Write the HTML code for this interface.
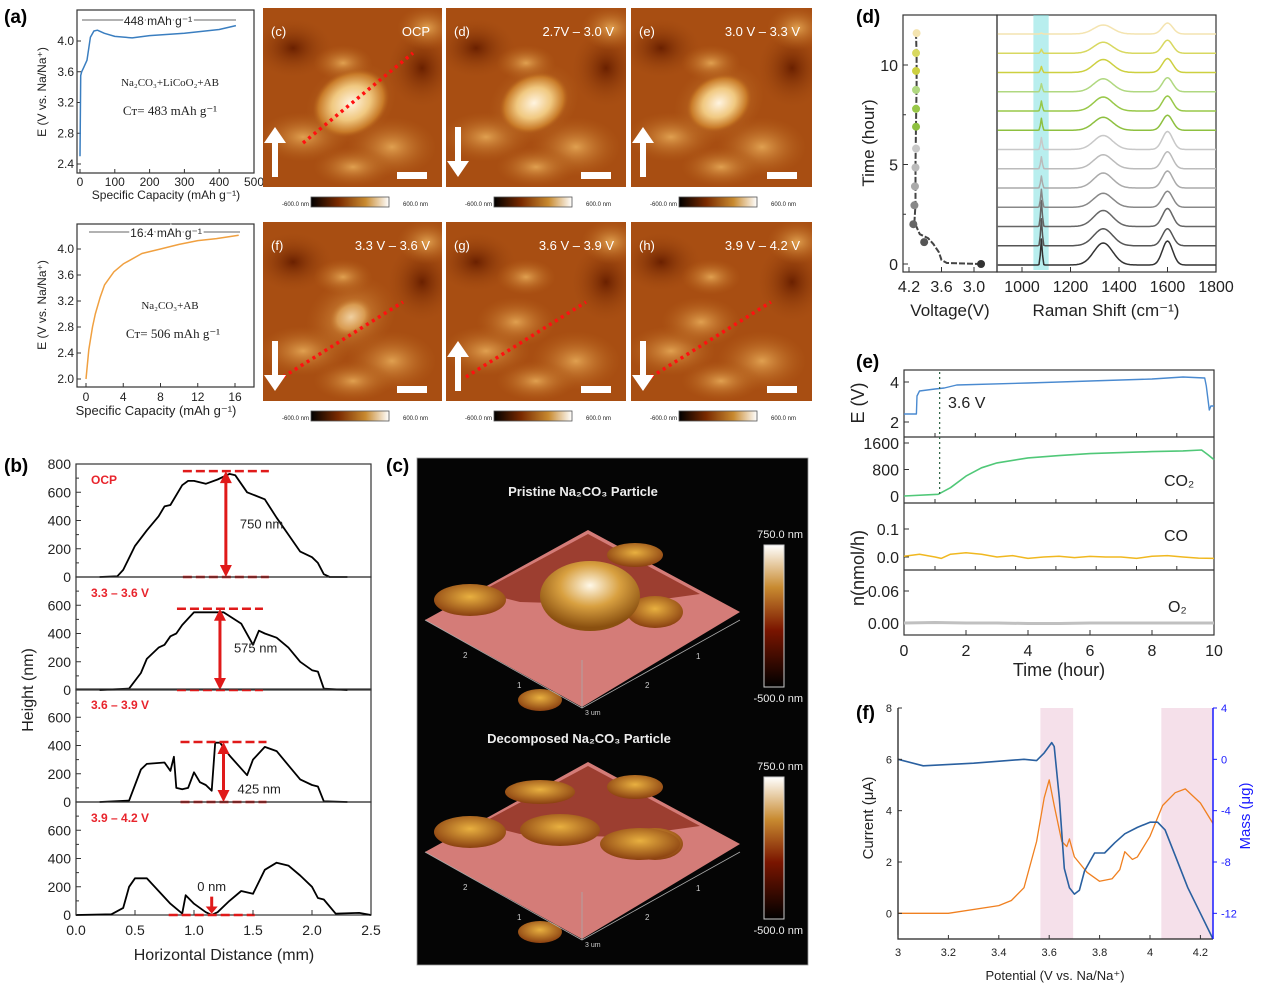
<!DOCTYPE html>
<html><head><meta charset="utf-8">
<style>
html,body{margin:0;padding:0;background:#fff;}
svg{display:block;font-family:"Liberation Sans",sans-serif;}
</style></head>
<body>
<svg id="fig" width="1272" height="997" viewBox="0 0 1272 997" xmlns="http://www.w3.org/2000/svg">
<defs>
<linearGradient id="cbar" x1="0" x2="1" y1="0" y2="0"><stop offset="0" stop-color="#000"/><stop offset="0.35" stop-color="#7a2a00"/><stop offset="0.7" stop-color="#c88a30"/><stop offset="1" stop-color="#fff"/></linearGradient>
<linearGradient id="cbarv" x1="0" x2="0" y1="1" y2="0"><stop offset="0" stop-color="#000"/><stop offset="0.4" stop-color="#7a1500"/><stop offset="0.7" stop-color="#c88a30"/><stop offset="1" stop-color="#fff"/></linearGradient>
<radialGradient id="part" cx="0.5" cy="0.5" r="0.5"><stop offset="0" stop-color="#fff4e0"/><stop offset="0.5" stop-color="#f0c880"/><stop offset="0.85" stop-color="#c87a28"/><stop offset="1" stop-color="#b4601a" stop-opacity="0"/></radialGradient>
<radialGradient id="partdim" cx="0.5" cy="0.5" r="0.5"><stop offset="0" stop-color="#f0d0a0"/><stop offset="0.6" stop-color="#d89a50"/><stop offset="1" stop-color="#b4601a" stop-opacity="0"/></radialGradient>
<radialGradient id="blob" cx="0.5" cy="0.5" r="0.5"><stop offset="0" stop-color="#e0a050"/><stop offset="1" stop-color="#b4601a" stop-opacity="0"/></radialGradient>
<radialGradient id="dark" cx="0.5" cy="0.5" r="0.5"><stop offset="0" stop-color="#6a2000"/><stop offset="1" stop-color="#a04a10" stop-opacity="0"/></radialGradient>
<radialGradient id="dome" cx="0.5" cy="0.35" r="0.6"><stop offset="0" stop-color="#fff8e8"/><stop offset="0.5" stop-color="#d8a040"/><stop offset="1" stop-color="#8a5010"/></radialGradient>
<radialGradient id="lump" cx="0.5" cy="0.4" r="0.6"><stop offset="0" stop-color="#e8b040"/><stop offset="1" stop-color="#8a4010"/></radialGradient>
</defs>
<g id="root"></g>
</svg>
<script>
// ---------- DATA ----------
// (a) top
const aTopCap = [0,2,5,10,20,30,40,50,70,100,150,200,300,400,448];
const aTopE   = [2.5,3.55,3.6,3.65,3.75,4.05,4.13,4.14,4.1,4.06,4.04,4.07,4.1,4.15,4.2];
const aTopXTicks = [0,100,200,300,400,500];
const aTopYTicks = [2.4,2.8,3.2,3.6,4.0];
// (a) bottom
const aBotCap = [0,0.3,0.7,1,1.5,2,3,4,6,8,10,12,14,16.4];
const aBotE   = [2.0,2.45,2.8,3.0,3.25,3.45,3.65,3.77,3.93,4.0,4.07,4.13,4.16,4.21];
const aBotXTicks = [0,4,8,12,16];
const aBotYTicks = [2.0,2.4,2.8,3.2,3.6,4.0];
// (b) height profiles
const bLabels = ["OCP","3.3 \u2013 3.6 V","3.6 \u2013 3.9 V","3.9 \u2013 4.2 V"];
const bX1 = [0.2,0.35,0.4,0.5,0.6,0.7,0.75,0.8,0.9,0.95,1.0,1.1,1.2,1.3,1.35,1.45,1.6,1.7,1.8,1.9,2.0,2.05,2.1,2.15,2.3];
const bH1 = [0,5,50,220,330,430,500,510,650,680,680,660,690,730,720,600,550,420,300,180,140,100,20,0,0];
const bX2 = [0.2,0.45,0.55,0.6,0.7,0.75,0.8,0.85,0.9,1.0,1.1,1.25,1.4,1.5,1.55,1.6,1.7,1.8,1.9,2.0,2.05,2.1,2.3];
const bH2 = [0,10,120,220,300,320,380,400,460,550,550,550,470,320,420,400,370,300,200,140,130,10,0];
const bX3 = [0.2,0.45,0.55,0.6,0.75,0.8,0.83,0.85,0.9,0.95,1.0,1.05,1.1,1.15,1.18,1.22,1.3,1.45,1.5,1.6,1.7,1.8,1.9,2.0,2.05,2.1,2.3];
const bH3 = [0,10,230,270,280,220,320,100,90,100,210,140,120,80,420,420,330,190,300,390,360,260,160,120,110,5,0];
const bX4 = [0,0.3,0.4,0.45,0.5,0.6,0.7,0.8,0.9,0.93,1.0,1.1,1.15,1.2,1.3,1.4,1.5,1.6,1.7,1.8,1.9,2.0,2.05,2.1,2.2,2.4,2.5];
const bH4 = [0,5,50,200,260,260,170,80,10,140,80,20,0,20,100,170,150,320,370,350,280,200,120,110,10,15,0];
const bArrowX = [1.27,1.22,1.25,1.15];
const bArrowTop = [750,575,425,60];
const bArrowText = ["750 nm","575 nm","425 nm","0 nm"];
const bXTicks = [0.0,0.5,1.0,1.5,2.0,2.5];
// (d) voltage vs time
const dV = [2.87,3.5,3.6,3.65,3.75,3.85,4.0,4.05,4.1,4.08,4.08,4.07,4.06,4.06,4.07];
const dT = [0,0.05,0.2,0.6,1.0,1.3,1.5,1.8,2.1,3,5,7,9,10.5,11.6];
const dDotT = [0,1.1,2.0,2.95,3.9,4.85,5.8,6.9,7.8,8.75,9.7,10.6,11.6];
const dDotV = [2.87,3.92,4.12,4.1,4.09,4.08,4.07,4.07,4.07,4.07,4.07,4.07,4.06];
const dColors = ["#333","#555","#666","#888","#aaa","#bbb","#c8c8c8","#8ec040","#98c848","#b0d880","#cdd040","#d8d860","#f4e4b0"];
const dPeak1080 = [26,27,26,18,12,12,12,12,10,8,6,4,1];
const dDband = [22,17,16,14,15,14,14,13,14,13,13,11,9];
const dGband = [24,17,18,16,17,17,18,15,15,14,14,13,11];
const dXTicks = [1000,1200,1400,1600,1800];
// (e)
const eT  = [0,0.4,0.42,0.5,1.0,1.3,1.7,4,6,8,9,9.7,9.75,9.85,9.9,10];
const eE  = [2.4,2.4,3.3,3.55,3.65,3.7,3.85,3.95,4.05,4.15,4.25,4.2,3.8,2.6,2.8,2.8];
const eCO2T = [0,1.1,1.5,2,2.5,3,4,5,6,7,8,9,9.6,9.8,10];
const eCO2 = [0,50,250,600,850,1000,1150,1220,1280,1310,1340,1360,1390,1250,1100];
const eCOT = [0,0.5,1,1.2,1.5,2,2.5,3,3.5,4,4.5,5,5.5,6,6.5,7,7.5,8,8.5,9,9.5,10];
const eCO = [0.003,0.01,0.0,-0.005,0.01,0.015,0.01,0.0,0.005,-0.005,0.0,0.003,-0.002,0.002,0.0,0.0,-0.005,0.003,0.005,0.0,-0.004,-0.005];
const eO2T = [0,1,2,3,4,5,6,7,8,9,10];
const eO2 = [0.0,0.001,0.0,0.0,-0.001,-0.001,0.0,0.0,0.0,0.0,0.0];
const eXTicks = [0,2,4,6,8,10];
// (f)
const fPotI = [3,3.2,3.4,3.45,3.5,3.55,3.58,3.6,3.62,3.65,3.67,3.68,3.7,3.75,3.8,3.85,3.88,3.9,3.93,3.95,4.0,4.05,4.1,4.14,4.2,4.25];
const fCur  = [0,0,0.3,0.5,1.0,2.8,4.5,5.2,4.2,2.8,2.6,2.9,2.2,1.6,1.25,1.35,1.7,2.4,2.1,2.2,3.0,4.2,4.7,4.85,4.3,3.5];
const fPotM = [3,3.1,3.3,3.5,3.55,3.58,3.61,3.62,3.64,3.66,3.68,3.7,3.72,3.74,3.78,3.82,3.86,3.9,3.95,4.0,4.03,4.06,4.1,4.15,4.2,4.25];
const fMass = [0,-0.5,-0.3,0,-0.1,0.5,1.3,1.0,-3,-8.5,-10,-10.5,-10.2,-8.7,-7.3,-7.3,-6.5,-5.8,-5.3,-4.9,-4.9,-5.5,-7.5,-10,-12,-14];
const fXTicks = [3,3.2,3.4,3.6,3.8,4,4.2];
const fLTicks = [0,2,4,6,8];
const fRTicks = [-12,-8,-4,0,4];
const fShade = [[3.565,3.695],[4.045,4.25]];

// ---------- HELPERS ----------
const NS="http://www.w3.org/2000/svg";
const root=document.getElementById('root');
function el(tag,attrs,parent){const e=document.createElementNS(NS,tag);for(const k in attrs)e.setAttribute(k,attrs[k]);(parent||root).appendChild(e);return e;}
function sc(d0,d1,r0,r1){return v=>r0+(v-d0)*(r1-r0)/(d1-d0);}
function txt(x,y,s,size,attrs,name){const t=el('text',Object.assign({x:x,y:y,'font-size':size,fill:'#222'},attrs||{}));t.textContent=s;


return t;}
function path(xs,ys,sx,sy,color,w,name,extra){let d='';for(let i=0;i<xs.length;i++)d+=(i?'L':'M')+sx(xs[i]).toFixed(1)+','+sy(ys[i]).toFixed(1);
const p=el('path',Object.assign({d:d,fill:'none',stroke:color,'stroke-width':w,'stroke-linejoin':'round'},extra||{}));


return p;}
function box(x,y,w,h,name,sw){const r=el('rect',{x:x,y:y,width:w,height:h,fill:'none',stroke:'#333','stroke-width':sw||1.2});


return r;}
function tick(x1,y1,x2,y2,c){el('line',{x1:x1,y1:y1,x2:x2,y2:y2,stroke:c||'#333','stroke-width':1});}
function panelLabel(x,y,s){txt(x,y,s,19,{'font-weight':'bold',fill:'#000'},'panel-label');}

// ---------- (a) galvanostatic ----------
panelLabel(4,23,'(a)');
(function(){
 const sx=sc(0,500,80,254), sy=sc(2.4,4.0,164,41);
 box(77,10,177,163,'a-top-plot-frame');
 aTopXTicks.forEach(v=>{tick(sx(v),173,sx(v),169);txt(sx(v),186,String(v),12,{'text-anchor':'middle'},'a-top-x-tick');});
 aTopYTicks.forEach(v=>{tick(77,sy(v),81,sy(v));txt(74,sy(v)+4,v.toFixed(1),12,{'text-anchor':'end'},'a-top-y-tick');});
 path(aTopCap,aTopE,sx,sy,'#3a7ec0',1.5,'a-top-curve');
 txt(166,199,'Specific Capacity (mAh g\u207B\u00B9)',12,{'text-anchor':'middle'},'a-top-x-title');
 txt(46,92,'E (V vs. Na/Na\u207A)',12,{'text-anchor':'middle',transform:'rotate(-90 46 92)'},'a-top-y-title');
 el('line',{x1:82,y1:20,x2:236,y2:20,stroke:'#333','stroke-width':0.8});
 txt(158,25,'448 mAh g\u207B\u00B9',12,{'text-anchor':'middle',style:'paint-order:stroke',stroke:'#fff','stroke-width':4},'a-top-capacity-note');
 txt(170,86,'Na\u2082CO\u2083+LiCoO\u2082+AB',11,{'text-anchor':'middle','font-family':'Liberation Serif'},'a-top-composition');
 txt(170,115,'C\u1D1B= 483 mAh g\u207B\u00B9',13,{'text-anchor':'middle','font-family':'Liberation Serif'},'a-top-capacity');
})();
(function(){
 const sx=sc(0,16,86,235), sy=sc(2.0,4.0,379,249);
 box(77,224,177,163,'a-bottom-plot-frame');
 aBotXTicks.forEach(v=>{tick(sx(v),387,sx(v),383);txt(sx(v),401,String(v),12,{'text-anchor':'middle'},'a-bottom-x-tick');});
 aBotYTicks.forEach(v=>{tick(77,sy(v),81,sy(v));txt(74,sy(v)+4,v.toFixed(1),12,{'text-anchor':'end'},'a-bottom-y-tick');});
 path(aBotCap,aBotE,sx,sy,'#f0a040',1.5,'a-bottom-curve');
 txt(156,415,'Specific Capacity (mAh g\u207B\u00B9)',13,{'text-anchor':'middle'},'a-bottom-x-title');
 txt(46,305,'E (V vs. Na/Na\u207A)',12,{'text-anchor':'middle',transform:'rotate(-90 46 305)'},'a-bottom-y-title');
 el('line',{x1:89,y1:232,x2:240,y2:232,stroke:'#333','stroke-width':0.8});
 txt(166,237,'16.4 mAh g\u207B\u00B9',12,{'text-anchor':'middle',style:'paint-order:stroke',stroke:'#fff','stroke-width':4},'a-bottom-capacity-note');
 txt(170,309,'Na\u2082CO\u2083+AB',11,{'text-anchor':'middle','font-family':'Liberation Serif'},'a-bottom-composition');
 txt(173,338,'C\u1D1B= 506 mAh g\u207B\u00B9',13,{'text-anchor':'middle','font-family':'Liberation Serif'},'a-bottom-capacity');
})();

// ---------- AFM images ----------
const afmTitles=[['(c)','OCP'],['(d)','2.7V \u2013 3.0 V'],['(e)','3.0 V \u2013 3.3 V'],['(f)','3.3 V \u2013 3.6 V'],['(g)','3.6 V \u2013 3.9 V'],['(h)','3.9 V \u2013 4.2 V']];
const afmArrowUp=[true,false,true,false,true,false];
const afmParticle=[1,0.9,0.85,0.6,0,0];
const afmCols=[[263,179],[446,180],[631,181]];
const afmRows=[8,222];
afmTitles.forEach((t,i)=>{
 const c=afmCols[i%3], ry=afmRows[Math.floor(i/3)], x=c[0], w=c[1], h=179;
 const g=el('g',{});
 
 
 const cid='clip'+i;
 const cp=el('clipPath',{id:cid},g); el('rect',{x:x,y:ry,width:w,height:h},cp);
 const gg=el('g',{'clip-path':'url(#'+cid+')'},g);
 el('rect',{x:x,y:ry,width:w,height:h,fill:'#a84e12'},gg);
 el('ellipse',{cx:x+30,cy:ry+40,rx:40,ry:30,fill:'url(#dark)'},gg);
 el('ellipse',{cx:x+w-20,cy:ry+60,rx:35,ry:40,fill:'url(#dark)'},gg);
 el('ellipse',{cx:x+w-15,cy:ry+20,rx:30,ry:22,fill:'url(#blob)'},gg);
 el('ellipse',{cx:x+40,cy:ry+h-50,rx:45,ry:25,fill:'url(#blob)'},gg);
 el('ellipse',{cx:x+w-50,cy:ry+h-40,rx:45,ry:30,fill:'url(#blob)'},gg);
 el('ellipse',{cx:x+90,cy:ry+h-20,rx:40,ry:20,fill:'url(#blob)'},gg);
 el('ellipse',{cx:x+80,cy:ry+55,rx:30,ry:18,fill:'url(#blob)'},gg);
 if(afmParticle[i]>0){
  el('ellipse',{cx:x+88,cy:ry+95,rx:48,ry:38,fill:'url(#blob)',transform:'rotate(-30 '+(x+88)+' '+(ry+95)+')'},gg);
  el('ellipse',{cx:x+88,cy:ry+95,rx:40*afmParticle[i],ry:32*afmParticle[i],fill:i<3?'url(#part)':'url(#partdim)',transform:'rotate(-30 '+(x+88)+' '+(ry+95)+')'},gg);
 } else {
  el('ellipse',{cx:x+70,cy:ry+100,rx:40,ry:25,fill:'url(#blob)'},gg);
 }
 const l=el('line',{x1:x+(i<3?40:20),y1:ry+(i<3?135:155),x2:x+(i<3?150:140),y2:ry+(i<3?45:80),stroke:'#ff1010','stroke-width':3.5,'stroke-dasharray':'3 4',opacity:i==1||i==2?0:1},g);
 
 
 const ax=x+12, up=afmArrowUp[i];
 const ay0=up?ry+h-10:ry+h-60, ay1=up?ry+h-60:ry+h-10;
 el('line',{x1:ax,y1:ay0,x2:ax,y2:up?ay1+14:ay1-14,stroke:'#fff','stroke-width':6},g);
 el('polygon',{points:up?`${ax-11},${ay1+16} ${ax+11},${ay1+16} ${ax},${ay1}`:`${ax-11},${ay1-16} ${ax+11},${ay1-16} ${ax},${ay1}`,fill:'#fff'},g);
 el('rect',{x:x+w-45,y:ry+h-15,width:30,height:7,fill:'#fff'},g);
 txt(x+8,ry+28,t[0],13,{fill:'#fff'},'afm-sub-label');
 txt(x+w-12,ry+28,t[1],13,{fill:'#fff','text-anchor':'end'},'afm-voltage-label');
 const cy=ry+h+10;
 const cb=el('rect',{x:x+48,y:cy,width:78,height:10,fill:'url(#cbar)',stroke:'#555','stroke-width':0.8});
 
 
 txt(x+46,cy+9,'-600.0 nm',6,{'text-anchor':'end'},'colorbar-min');
 txt(x+140,cy+9,'600.0 nm',6,{},'colorbar-max');
});

// ---------- (b) height profiles ----------
panelLabel(4,472,'(b)');
(function(){
 const bx=[bX1,bX2,bX3,bX4], bh=[bH1,bH2,bH3,bH4];
 const tops=[464,577,689,802], H=113;
 const sx=sc(0,2.5,76,371);
 tops.forEach((ty,i)=>{
  const sy=sc(0,800,ty+H,ty);
  box(76,ty,295,H,'b-subplot-frame-'+(i+1));
  const ticks=i==0?[0,200,400,600,800]:[0,200,400,600];
  ticks.forEach(v=>{tick(76,sy(v),81,sy(v));txt(71,sy(v)+5,String(v),14,{'text-anchor':'end'},'b-y-tick');});
  [100,300,500,700].forEach(v=>{tick(76,sy(v),79,sy(v));});
  path(bx[i],bh[i],sx,sy,'#000',1.8,'b-profile-'+(i+1));
  txt(91,ty+20,bLabels[i],12,{fill:'#e8242c','font-weight':'bold'},'b-voltage-label');
  const axx=sx(bArrowX[i]);
  el('line',{x1:axx-43,y1:sy(0),x2:axx+43,y2:sy(0),stroke:'#e01a1a','stroke-width':2.5,'stroke-dasharray':'9 4'});
  if(i<3) el('line',{x1:axx-43,y1:sy(bArrowTop[i]),x2:axx+43,y2:sy(bArrowTop[i]),stroke:'#e01a1a','stroke-width':2.5,'stroke-dasharray':'9 4'});
  const ar=el('g',{});
  
  
  if(i<3){
   el('line',{x1:axx,y1:sy(bArrowTop[i])+10,x2:axx,y2:sy(0)-10,stroke:'#e01a1a','stroke-width':3},ar);
   el('polygon',{points:`${axx-6},${sy(bArrowTop[i])+12} ${axx+6},${sy(bArrowTop[i])+12} ${axx},${sy(bArrowTop[i])}`,fill:'#e01a1a'},ar);
   el('polygon',{points:`${axx-6},${sy(0)-12} ${axx+6},${sy(0)-12} ${axx},${sy(0)}`,fill:'#e01a1a'},ar);
   txt(axx+14,i==2?sy(60):sy(bArrowTop[i]*0.46),bArrowText[i],13,{},'b-height-value');
  } else {
   el('line',{x1:axx,y1:sy(130),x2:axx,y2:sy(50),stroke:'#e01a1a','stroke-width':3},ar);
   el('polygon',{points:`${axx-6},${sy(60)} ${axx+6},${sy(60)} ${axx},${sy(10)}`,fill:'#e01a1a'},ar);
   txt(axx,sy(170),bArrowText[i],13,{'text-anchor':'middle'},'b-height-value');
  }
 });
 bXTicks.forEach(v=>{tick(sx(v),915,sx(v),910);txt(sx(v),935,v.toFixed(1),14,{'text-anchor':'middle'},'b-x-tick');});
 txt(224,960,'Horizontal Distance (mm)',16,{'text-anchor':'middle'},'b-x-title');
 txt(33,690,'Height (nm)',16,{'text-anchor':'middle',transform:'rotate(-90 33 690)'},'b-y-title');
})();

// ---------- (c) 3D AFM ----------
panelLabel(386,472,'(c)');
(function(){
 const bg=el('rect',{x:417,y:458,width:391,height:507,fill:'#050505',stroke:'#999','stroke-width':0.8});
 
 
 function surf(oy,pristine){
  const g=el('g',{});
  
  
  el('polygon',{points:`425,${oy+620} 588,${oy+530} 740,${oy+612} 582,${oy+707}`,fill:'#d47c78'},g);
  el('polygon',{points:`480,${oy+592} 588,${oy+534} 700,${oy+594} 620,${oy+605} 520,${oy+602}`,fill:'#8a2a18',opacity:0.75},g);
  el('ellipse',{cx:470,cy:oy+600,rx:36,ry:16,fill:'url(#lump)'},g);
  el('ellipse',{cx:540,cy:oy+700,rx:22,ry:11,fill:'url(#lump)'},g);
  el('ellipse',{cx:655,cy:oy+612,rx:28,ry:16,fill:'url(#lump)'},g);
  el('ellipse',{cx:635,cy:oy+555,rx:28,ry:12,fill:'url(#lump)'},g);
  if(pristine){
   el('ellipse',{cx:590,cy:oy+596,rx:50,ry:35,fill:'url(#dome)'},g);
  } else {
   el('ellipse',{cx:560,cy:oy+598,rx:40,ry:16,fill:'url(#lump)'},g);
   el('ellipse',{cx:640,cy:oy+612,rx:40,ry:16,fill:'url(#lump)'},g);
   el('ellipse',{cx:540,cy:oy+560,rx:35,ry:12,fill:'url(#lump)'},g);
  }
  el('polyline',{points:`425,${oy+620} 582,${oy+708} 740,${oy+620}`,fill:'none',stroke:'#aaa','stroke-width':0.8},g);
  el('line',{x1:582,y1:oy+660,x2:582,y2:oy+708,stroke:'#aaa','stroke-width':0.8},g);
 }
 surf(0,true); surf(232,false);
 txt(583,496,'Pristine Na\u2082CO\u2083 Particle',13,{fill:'#eee','text-anchor':'middle','font-weight':'bold'},'c-pristine-title');
 txt(579,743,'Decomposed Na\u2082CO\u2083 Particle',13,{fill:'#eee','text-anchor':'middle','font-weight':'bold'},'c-decomposed-title');
 [0,232].forEach((o,k)=>{
  const cb=el('rect',{x:764,y:545+o,width:20,height:142,fill:'url(#cbarv)',stroke:'#ccc','stroke-width':1});
  
  
  txt(803,538+o,'750.0 nm',11,{fill:'#eee','text-anchor':'end'},'c-colorbar-max');
  txt(803,702+o,'-500.0 nm',11,{fill:'#eee','text-anchor':'end'},'c-colorbar-min');
  txt(463,658+o,'2',8,{fill:'#ccc'},'c-axis-tick');
  txt(517,688+o,'1',8,{fill:'#ccc'},'c-axis-tick');
  txt(645,688+o,'2',8,{fill:'#ccc'},'c-axis-tick');
  txt(696,659+o,'1',8,{fill:'#ccc'},'c-axis-tick');
  txt(585,715+o,'3 um',7,{fill:'#ccc'},'c-axis-tick');
 });
})();

// ---------- (d) Raman ----------
panelLabel(856,23,'(d)');
(function(){
 const ty=sc(0,10,264,65);
 const sv=sc(4.2,3.0,909,974);
 box(903,15,94,257,'d-voltage-frame');
 box(997,15,219,257,'d-raman-frame');
 [0,5,10].forEach(v=>{tick(903,ty(v),908,ty(v));txt(898,ty(v)+6,String(v),16,{'text-anchor':'end'},'d-y-tick');});
 [2.5,7.5].forEach(v=>tick(903,ty(v),906,ty(v)));
 [4.2,3.6,3.0].forEach(v=>{tick(sv(v),272,sv(v),267);txt(sv(v),292,v.toFixed(1),16,{'text-anchor':'middle'},'d-voltage-tick');});
 path(dV,dT,sv,ty,'#444',2,'d-voltage-curve',{'stroke-dasharray':'6 2'});
 dDotT.forEach((t,i)=>{const c=el('circle',{cx:sv(dDotV[i]),cy:ty(t),r:4,fill:dColors[i]});
  
  });
 txt(950,316,'Voltage(V)',17,{'text-anchor':'middle'},'d-voltage-title');
 txt(874,143,'Time (hour)',17,{'text-anchor':'middle',transform:'rotate(-90 874 143)'},'d-y-title');
 const sr=sc(1000,1800,1022,1216);
 const band=el('rect',{x:sr(1047),y:15,width:sr(1110)-sr(1047),height:255,fill:'#7ee0e0',opacity:0.55});
 
 
 const rs=[];for(let r=900;r<=1800;r+=5)rs.push(r);
 dColors.forEach((c,i)=>{
  const base=265-i*19.25;
  const ys=rs.map(r=>dPeak1080[i]*Math.exp(-Math.pow((r-1080)/5,2))+dDband[i]*Math.exp(-Math.pow((r-1335)/55,2))+dGband[i]*Math.exp(-Math.pow((r-1600)/30,2)));
  path(rs,ys,sr,v=>base-v,c,1.5,'d-raman-spectrum-'+(i+1));
 });
 dXTicks.forEach(v=>{tick(sr(v),272,sr(v),267);txt(sr(v),292,String(v),16,{'text-anchor':'middle'},'d-raman-tick');});
 txt(1106,316,'Raman Shift (cm\u207B\u00B9)',17,{'text-anchor':'middle'},'d-raman-title');
})();

// ---------- (e) DEMS ----------
panelLabel(856,368,'(e)');
(function(){
 const sx=sc(0,10,904,1214);
 box(904,370,310,265,'e-frame');
 [437,503,570].forEach(y=>el('line',{x1:904,y1:y,x2:1214,y2:y,stroke:'#333','stroke-width':1.2}));
 const sE=sc(2,4,422,382), sC=sc(0,1600,496,443), sCO=sc(0,0.1,557,529), sO=sc(0,0.06,623,591);
 [2,4].forEach(v=>{tick(904,sE(v),909,sE(v));txt(899,sE(v)+6,String(v),16,{'text-anchor':'end'},'e-E-tick');});
 [0,800,1600].forEach(v=>{tick(904,sC(v),909,sC(v));txt(899,sC(v)+6,String(v),16,{'text-anchor':'end'},'e-co2-tick');});
 [0.0,0.1].forEach(v=>{tick(904,sCO(v),909,sCO(v));txt(899,sCO(v)+6,v.toFixed(1),16,{'text-anchor':'end'},'e-co-tick');});
 [0.00,0.06].forEach(v=>{tick(904,sO(v),909,sO(v));txt(899,sO(v)+6,v.toFixed(2),16,{'text-anchor':'end'},'e-o2-tick');});
 eXTicks.forEach(v=>{tick(sx(v),635,sx(v),630);txt(sx(v),656,String(v),16,{'text-anchor':'middle'},'e-x-tick');});
 [437,503,570].forEach(y=>{for(let v=1;v<10;v+=1.3)tick(sx(v),y,sx(v),y-4);});
 path(eT,eE,sx,sE,'#4a8ad0',1.4,'e-voltage-curve');
 path(eCO2T,eCO2,sx,sC,'#50c878',1.6,'e-co2-curve');
 path(eCOT,eCO,sx,sCO,'#f0b820',1.5,'e-co-curve');
 path(eO2T,eO2,sx,sO,'#c0c0c0',3,'e-o2-curve');
 const vl=el('line',{x1:sx(1.15),y1:372,x2:sx(1.15),y2:496,stroke:'#2a6040','stroke-width':1.2,'stroke-dasharray':'2 3'});
 
 
 txt(948,408,'3.6 V',16,{},'e-onset-label');
 txt(1164,486,'CO\u2082',16,{},'e-co2-label');
 txt(1164,541,'CO',16,{},'e-co-label');
 txt(1168,612,'O\u2082',16,{},'e-o2-label');
 txt(864,403,'E (V)',18,{'text-anchor':'middle',transform:'rotate(-90 864 403)'},'e-E-title');
 txt(864,568,'n(nmol/h)',18,{'text-anchor':'middle',transform:'rotate(-90 864 568)'},'e-n-title');
 txt(1059,676,'Time (hour)',18,{'text-anchor':'middle'},'e-x-title');
})();

// ---------- (f) EQCM ----------
panelLabel(856,719,'(f)');
(function(){
 const sx=sc(3,4.25,898,1213), sl=sc(-1,8,939,708), sm=sc(-14,4,939,708);
 fShade.forEach(s=>{const r=el('rect',{x:sx(s[0]),y:708,width:sx(s[1])-sx(s[0]),height:231,fill:'#f5e0ea'});
  
  });
 path(fPotI,fCur,sx,sl,'#f08020',1.3,'f-current-curve');
 path(fPotM,fMass,sx,sm,'#2a60a0',1.6,'f-mass-curve');
 const ax=el('polyline',{points:'898,708 898,939 1213,939',fill:'none',stroke:'#222','stroke-width':1.3});
 
 
 el('line',{x1:1213,y1:708,x2:1213,y2:939,stroke:'#1a1aff','stroke-width':1.5});
 fXTicks.forEach(v=>{tick(sx(v),939,sx(v),935);txt(sx(v),956,String(v),11,{'text-anchor':'middle'},'f-x-tick');});
 fLTicks.forEach(v=>{tick(898,sl(v),902,sl(v));txt(892,sl(v)+4,String(v),11,{'text-anchor':'end'},'f-left-tick');});
 fRTicks.forEach(v=>{tick(1213,sm(v),1217,sm(v),'#1a1aff');txt(1221,sm(v)+4,String(v),11,{fill:'#1a1aff'},'f-right-tick');});
 txt(1055,980,'Potential (V vs. Na/Na\u207A)',13,{'text-anchor':'middle'},'f-x-title');
 txt(873,818,'Current (\u03BCA)',15,{'text-anchor':'middle',transform:'rotate(-90 873 818)'},'f-left-title');
 txt(1250,816,'Mass (\u03BCg)',15,{'text-anchor':'middle',fill:'#1a1aff',transform:'rotate(-90 1250 816)'},'f-right-title');
})();
</script>
</body></html>
